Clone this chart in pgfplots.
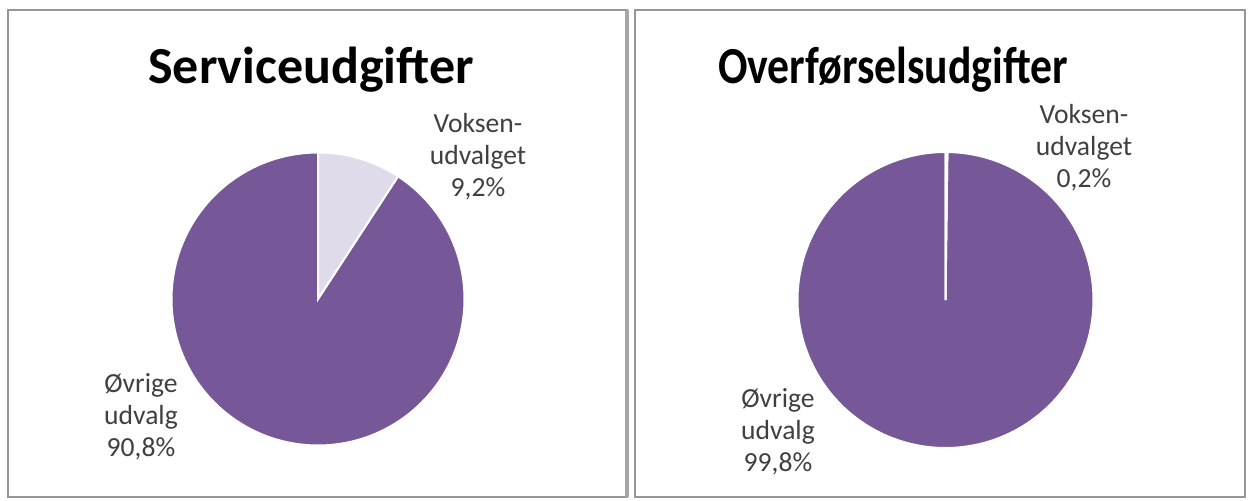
\documentclass[border=0pt]{standalone}
\usepackage{pgfplots}
\pgfplotsset{compat=1.18}
\usepackage{fontspec}
\setmainfont{Carlito}
\definecolor{piepurple}{RGB}{118,88,152}
\definecolor{pielight}{RGB}{224,219,234}
\definecolor{labelgray}{RGB}{64,64,64}
\definecolor{framegray}{RGB}{150,150,150}
% data (percent)
\def\svcVoksen{9.2}
\def\svcOvrige{90.8}
\def\ovfVoksen{0.2}
\def\ovfOvrige{99.8}
\begin{document}
\begin{tikzpicture}
\path[use as bounding box, fill=white] (0,0) rectangle (625pt,250pt);
% panel frames
\draw[framegray, line width=1pt] (4pt,1.5pt) rectangle (313.5pt,245pt);
\draw[framegray, line width=1pt] (317.5pt,1.5pt) rectangle (622.5pt,245pt);
\fill[gray!70] (312.5pt,1.5pt) rectangle (314.5pt,245pt);

% titles
\node[font=\fontsize{26}{30}\selectfont\bfseries] at (155.5pt,215pt) {Serviceudgifter};
\node[font=\fontsize{26}{30}\selectfont\bfseries, xscale=0.84] at (446.5pt,215pt) {Overførselsudgifter};

% left pie
\pgfmathsetmacro\aL{90-\svcVoksen*3.6}
\begin{axis}[at={(159pt,100.5pt)}, anchor=center, scale only axis,
  x=73.25pt, y=73.25pt, xmin=-1, xmax=1, ymin=-1, ymax=1,
  hide axis, clip=false]
\addplot[fill=piepurple, draw=white, line width=1pt, domain=-270:\aL, samples=300]
  ({cos(x)},{sin(x)}) -- (0,0) -- cycle;
\addplot[fill=pielight, draw=white, line width=1pt, domain=\aL:90, samples=60]
  ({cos(x)},{sin(x)}) -- (0,0) -- cycle;
\end{axis}

% right pie
\pgfmathsetmacro\aR{90-\ovfVoksen*3.6}
\begin{axis}[at={(472.75pt,100pt)}, anchor=center, scale only axis,
  x=74pt, y=74pt, xmin=-1, xmax=1, ymin=-1, ymax=1,
  hide axis, clip=false]
\addplot[fill=piepurple, draw=white, line width=1pt, domain=-270:\aR, samples=300]
  ({cos(x)},{sin(x)}) -- (0,0) -- cycle;
\addplot[fill=pielight, draw=white, line width=1pt, domain=\aR:90, samples=10]
  ({cos(x)},{sin(x)}) -- (0,0) -- cycle;
\end{axis}

% labels
\begin{scope}[every node/.style={font=\fontsize{13.8}{16}\selectfont, text=labelgray, align=center}]
\node at (239pt,171.5pt) {Voksen-\\udvalget\\9,2\%};
\node at (70.5pt,41.5pt) {Øvrige\\udvalg\\90,8\%};
\node at (542pt,176pt) {Voksen-\\udvalget\\0,2\%};
\node at (389pt,34pt) {Øvrige\\udvalg\\99,8\%};
\end{scope}
\end{tikzpicture}
\end{document}
